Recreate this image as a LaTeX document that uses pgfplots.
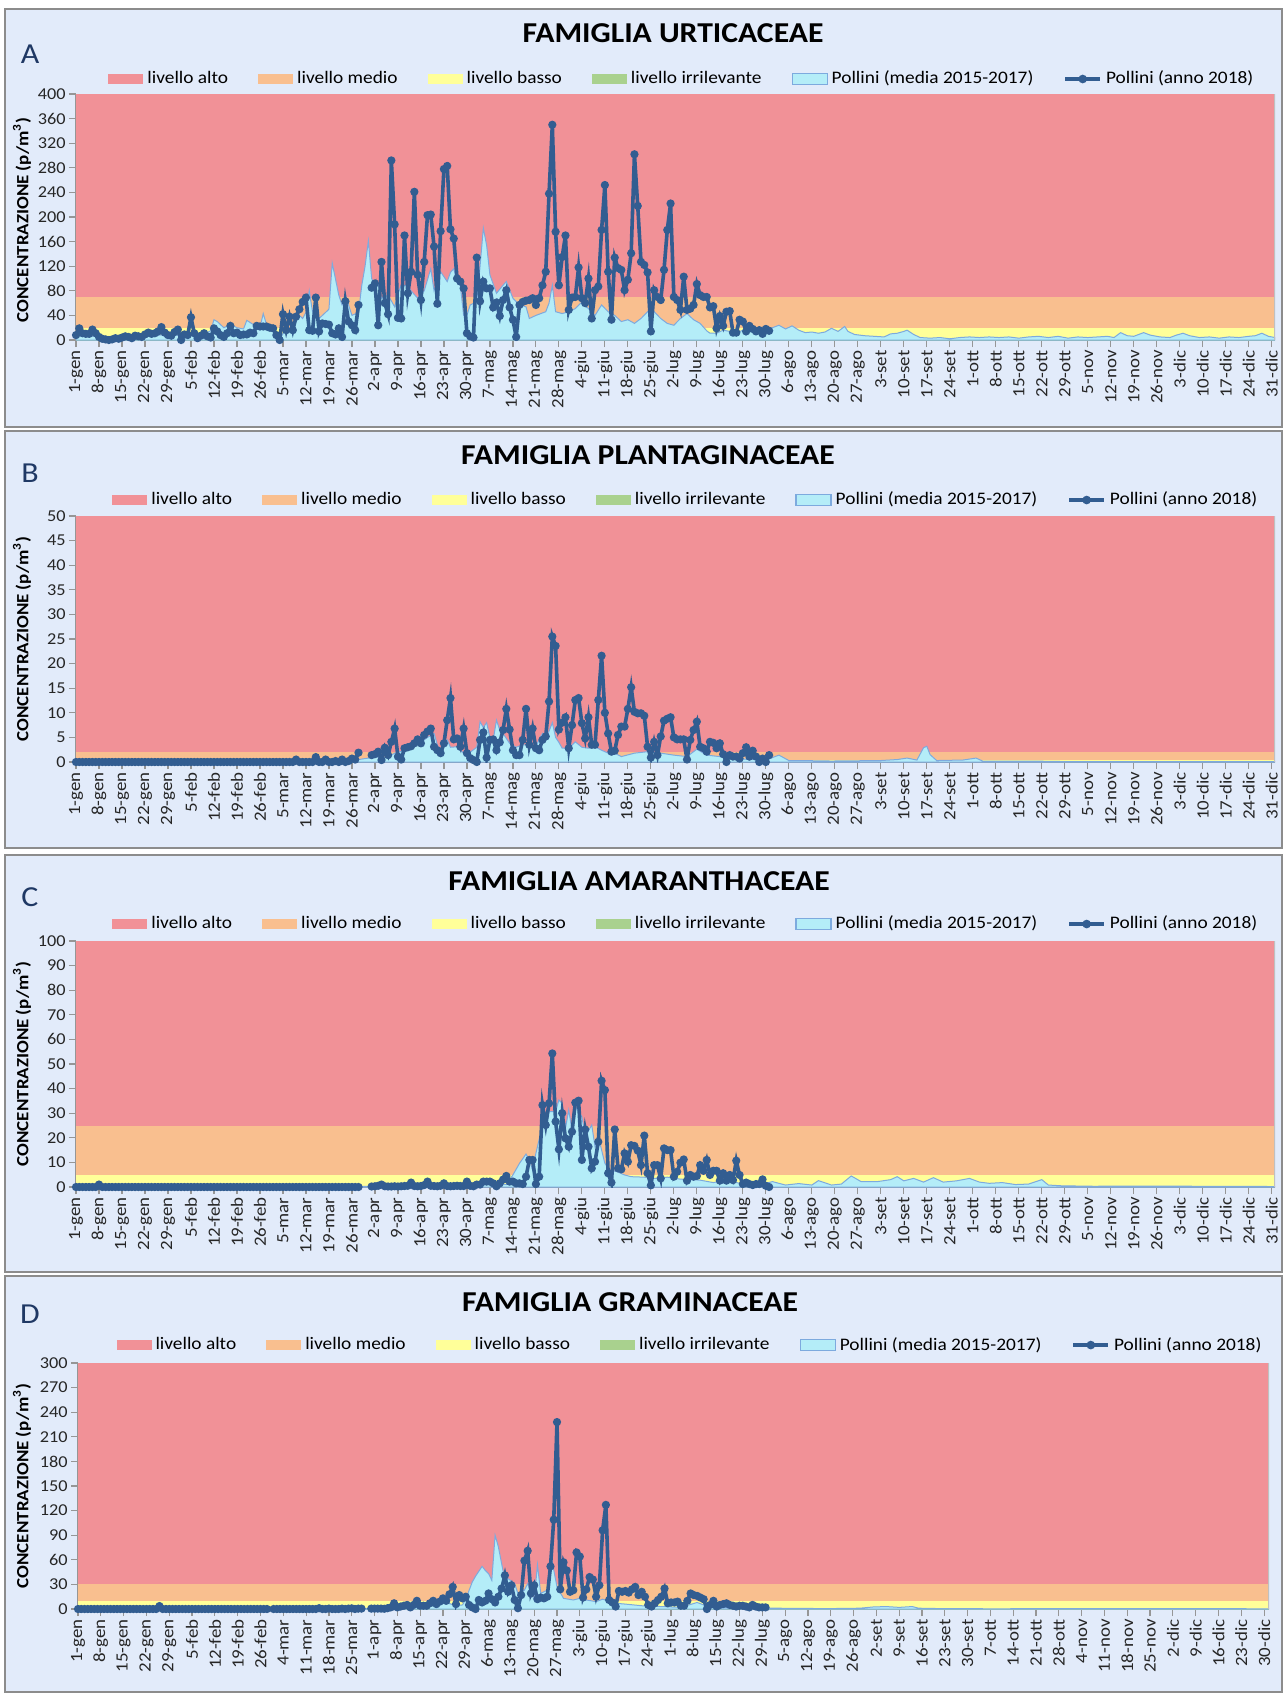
\documentclass[border=0pt]{standalone}
\usepackage{pgfplots}
\pgfplotsset{compat=1.18}
\usepackage{pgfplotstable}
\usepackage{fontspec}
\setmainfont{Carlito}[FakeStretch=1.1]

\definecolor{cRed}{RGB}{241,145,151}
\definecolor{cOrange}{RGB}{249,191,143}
\definecolor{cYellow}{RGB}{255,255,153}
\definecolor{cGreen}{RGB}{169,209,142}
\definecolor{avgFill}{RGB}{180,237,248}
\definecolor{avgEdge}{RGB}{125,170,222}
\definecolor{lineBlue}{RGB}{50,93,145}
\definecolor{panelBg}{RGB}{226,235,250}
\definecolor{boxGrey}{RGB}{140,140,140}
\definecolor{axGrey}{RGB}{150,150,150}
\definecolor{letterBlue}{RGB}{31,56,100}

\newcommand\xtickfont{\fontsize{8.6}{9}\selectfont}
\newcommand\ytickfont{\fontsize{8.3}{9}\selectfont}
\newcommand\legfont{\fontsize{8.8}{10}\selectfont}
\newcommand\titlefont{\fontsize{14.4}{16}\selectfont\bfseries}
\newcommand\letterfont{\fontsize{14.5}{16}\selectfont}
\newcommand\ylabfont{\fontsize{8.6}{10}\selectfont\bfseries}

% ---------------- 2018 daily series (day 0 = 1 Jan) ----------------
\pgfplotstableread[row sep=crcr,header=false]{
8\\19\\11\\10\\10\\17\\11\\5\\2\\1\\
0\\1\\3\\2\\4\\6\\5\\3\\7\\6\\
5\\9\\12\\10\\11\\14\\21\\12\\8\\7\\
13\\17\\0\\9\\8\\37\\11\\3\\7\\11\\
6\\4\\19\\14\\8\\5\\11\\23\\11\\12\\
8\\9\\9\\12\\11\\23\\22\\22\\22\\20\\
19\\8\\0\\42\\16\\38\\16\\38\\50\\62\\
69\\16\\15\\69\\14\\27\\26\\25\\11\\9\\
19\\5\\63\\30\\24\\16\\57\\nan\\nan\\nan\\
85\\92\\24\\127\\60\\42\\292\\188\\36\\35\\
170\\76\\111\\241\\106\\65\\127\\203\\204\\152\\
59\\177\\278\\283\\180\\165\\100\\95\\84\\11\\
6\\4\\134\\63\\95\\84\\84\\53\\61\\39\\
65\\81\\53\\33\\5\\57\\62\\64\\65\\68\\
57\\68\\89\\111\\238\\350\\176\\89\\135\\170\\
49\\69\\70\\118\\68\\60\\100\\35\\81\\87\\
179\\252\\111\\33\\134\\117\\114\\81\\98\\141\\
302\\218\\127\\122\\110\\14\\81\\70\\65\\114\\
179\\222\\70\\65\\49\\103\\49\\51\\57\\91\\
73\\70\\70\\53\\55\\19\\39\\23\\46\\47\\
12\\12\\33\\30\\14\\23\\18\\14\\16\\10\\
18\\15\\}\lineA

\pgfplotstableread[row sep=crcr,header=false]{
0\\0\\0\\0\\0\\0\\0\\0\\0\\0\\
0\\0\\0\\0\\0\\0\\0\\0\\0\\0\\
0\\0\\0\\0\\0\\0\\0\\0\\0\\0\\
0\\0\\0\\0\\0\\0\\0\\0\\0\\0\\
0\\0\\0\\0\\0\\0\\0\\0\\0\\0\\
0\\0\\0\\0\\0\\0\\0\\0\\0\\0\\
0\\0\\0\\0\\0\\0\\0\\0.5\\0\\0\\
0\\0\\0\\1\\0\\0\\0.5\\0\\0\\0.2\\
0\\0.5\\0\\0.2\\0.7\\0.5\\1.9\\nan\\nan\\nan\\
1.4\\1.6\\2.1\\0.4\\2.9\\1.4\\4.1\\6.8\\1.1\\0.5\\
2.8\\3\\3.2\\3.8\\4.6\\3.8\\5.5\\6.2\\6.8\\3.1\\
2.4\\1.8\\3.8\\8.5\\13\\4.6\\4.8\\3.1\\6.8\\1.8\\
0.8\\0.4\\0\\4.5\\6\\0.9\\4.5\\4.6\\2.4\\4\\
6.5\\10.8\\6.6\\2.4\\1.4\\1.4\\4.5\\10.8\\3.5\\6.8\\
2.8\\2.4\\4.5\\5.2\\12.3\\25.5\\23.6\\6.6\\8\\9.1\\
2.8\\7.5\\12.6\\13\\7.9\\4.8\\9.1\\3.5\\3.5\\12.6\\
21.6\\10\\5.8\\2.1\\2.3\\5.5\\7.2\\7.2\\10.8\\15.2\\
10.2\\9.9\\9.9\\9.4\\3.1\\0.9\\4.1\\1.4\\5.2\\8.4\\
8.8\\9.1\\5\\4.6\\4.6\\4.6\\0.5\\4.5\\6.5\\8.2\\
3.1\\2.8\\2.1\\4.1\\3.9\\2.8\\3.8\\1.6\\0\\1.4\\
1.1\\1.1\\0.7\\1.8\\3\\1.1\\2.3\\1.1\\0\\0.7\\
0\\1.4\\}\lineB

\pgfplotstableread[row sep=crcr,header=false]{
0\\0\\0\\0\\0\\0\\0\\1\\0\\0\\
0\\0\\0\\0\\0\\0\\0\\0\\0\\0\\
0\\0\\0\\0\\0\\0\\0\\0\\0\\0\\
0\\0\\0\\0\\0\\0\\0\\0\\0\\0\\
0\\0\\0\\0\\0\\0\\0\\0\\0\\0\\
0\\0\\0\\0\\0\\0\\0\\0\\0\\0\\
0\\0\\0\\0\\0\\0\\0\\0\\0\\0\\
0\\0\\0\\0\\0\\0\\0\\0\\0\\0\\
0\\0\\0\\0\\0\\0\\0\\nan\\nan\\nan\\
0.2\\0.3\\0.5\\1\\0.3\\0.2\\0.2\\0.3\\0.2\\0.3\\
0.4\\0.5\\1.8\\0.4\\0.3\\0.4\\0.8\\2.2\\0.5\\0.4\\
0.3\\0.5\\1.5\\0.4\\0.3\\0.4\\0.5\\0.4\\0.4\\2.2\\
0.5\\0.3\\1\\1\\2.2\\2.2\\2.2\\1.5\\0.3\\1.5\\
3\\4.5\\2.2\\2.2\\1.5\\1.5\\1.2\\4.2\\11\\11\\
1.2\\4.2\\33.3\\25.2\\34\\54.3\\26.6\\15.3\\30\\19.8\\
16.4\\22.5\\34.3\\35.1\\11\\23.4\\16.4\\7.6\\10.3\\18.4\\
43.2\\39.4\\5.6\\1.8\\23.4\\7.6\\7.2\\13.7\\10.3\\17\\
16.7\\14.8\\8.9\\20.9\\5.6\\0.7\\8.9\\8.9\\3.5\\15.7\\
15\\15\\4.2\\6.2\\9.9\\11.2\\2.6\\4.9\\4.2\\4.5\\
8.9\\6.6\\11\\4.9\\6.6\\6.6\\2.6\\5.6\\2.6\\4.9\\
2.8\\10.7\\4.9\\1.2\\1.8\\1.2\\0.8\\1.2\\1.2\\3.1\\
0.5\\0\\}\lineC

\pgfplotstableread[row sep=crcr,header=false]{
0\\0\\0\\0\\0\\0\\0\\0\\0\\0\\
0\\0\\0\\0\\0\\0\\0\\0\\0\\0\\
0\\0\\0\\0\\0\\3.6\\0\\0\\0\\0\\
0\\0\\0\\0\\0\\0\\0\\0\\0\\0\\
0\\0\\0\\0\\0\\0\\0\\0\\0\\0\\
0\\0\\0\\0\\0\\0\\0\\0\\0\\nan\\
0\\0\\0\\0\\0\\0\\0\\0\\0\\0\\
0\\0\\0\\0\\1\\0\\0\\0.5\\0\\0\\
0\\0.5\\0\\0.5\\0.8\\0\\0.5\\0.5\\nan\\nan\\
0.5\\0.5\\0.5\\0.5\\0.3\\1\\2\\7\\2\\3\\
4\\5\\2\\5\\10\\4\\4\\4\\7\\10\\
6\\9\\13\\10\\18\\27\\6\\17\\13\\15\\
5\\2\\0\\11\\8\\10\\19\\12\\8\\15\\
25\\41\\21\\29\\11\\1\\17\\59\\71\\19\\
29\\12\\14\\13\\15\\52\\109\\228\\24\\57\\
47\\21\\23\\69\\64\\14\\24\\39\\36\\15\\
29\\96\\127\\11\\8\\3\\22\\21\\22\\20\\
24\\27\\17\\21\\15\\5\\3\\7\\11\\15\\
25\\7\\8\\8\\9\\4\\4\\10\\19\\17\\
16\\14\\12\\0\\5\\10\\3\\5\\6\\7\\
5\\4\\3\\4\\4\\3\\2\\5\\3\\2\\
2\\2\\}\lineD

% ---------------- 2015-2017 averages (day, value) ----------------
\pgfplotstableread[row sep=crcr,header=false]{
0 6\\3 7\\6 6\\9 4\\12 5\\15 7\\18 6\\21 8\\24 7\\27 9\\30 8\\33 7\\36 9\\39 10\\41 15\\42 33\\43 30\\45 20\\47 25\\49 20\\51 18\\52 32\\54 25\\56 20\\57 43\\58 25\\60 20\\61 10\\62 3\\63 10\\64 18\\66 20\\67 30\\68 40\\69 35\\70 45\\71 80\\72 46\\74 35\\76 45\\77 50\\78 125\\80 73\\81 57\\82 73\\84 40\\86 45\\87 89\\88 120\\89 161\\90 100\\91 90\\92 90\\93 68\\95 73\\97 54\\98 75\\99 89\\101 89\\102 80\\104 68\\106 80\\108 116\\109 80\\111 111\\113 95\\114 110\\115 116\\116 95\\117 89\\118 40\\119 40\\120 57\\122 62\\123 120\\124 182\\125 154\\126 106\\128 76\\130 89\\131 95\\133 68\\135 57\\137 54\\138 35\\140 40\\143 46\\144 60\\145 89\\146 46\\148 43\\150 46\\152 51\\154 62\\156 51\\158 40\\160 57\\162 46\\164 40\\166 30\\168 33\\170 27\\172 35\\174 46\\176 46\\178 35\\180 27\\182 24\\184 35\\186 43\\188 33\\190 27\\192 15\\193 11\\195 11\\197 16\\199 14\\201 11\\203 16\\205 14\\207 16\\208 14\\210 16\\212 20\\214 24\\216 18\\218 23\\220 16\\222 12\\224 13\\226 11\\228 13\\230 19\\232 14\\234 22\\235 14\\237 9\\240 7\\243 6\\246 5\\248 10\\250 11\\252 14\\253 16\\255 9\\257 4\\260 3\\263 4\\266 2\\269 4\\272 5\\275 4\\278 5\\281 4\\284 5\\287 3\\290 5\\293 6\\296 4\\299 6\\302 3\\305 5\\308 4\\311 5\\314 6\\316 4\\318 12\\320 7\\322 6\\325 12\\327 8\\330 5\\333 4\\335 8\\337 11\\339 7\\342 4\\345 5\\348 3\\351 5\\354 4\\357 6\\359 7\\361 11\\363 6\\365 4\\}\avgA

\pgfplotstableread[row sep=crcr,header=false]{
0 0\\60 0\\70 0.1\\80 0.1\\84 0.3\\88 0.7\\91 1\\95 1\\97 1.8\\100 2.3\\102 2.8\\104 3.8\\105 5.5\\106 4.5\\107 5\\109 5.8\\110 3.5\\111 1.8\\113 4.5\\114 3\\116 3.1\\118 1.8\\120 2\\122 3\\123 8.2\\124 7\\125 8\\126 5\\127 4.5\\128 8.5\\129 6.5\\130 5.8\\132 3.8\\134 3\\136 3.5\\138 3.5\\140 3.2\\142 5.8\\143 4.5\\145 8\\146 5\\147 4\\148 2.8\\150 2.8\\152 4.1\\154 3\\156 2.8\\158 3.1\\160 2.4\\162 1.8\\164 1.8\\166 1.1\\170 1.8\\174 2.1\\178 1.8\\182 1.4\\186 1.1\\189 2.6\\192 1.4\\196 1.1\\200 0.8\\205 0.5\\210 0.4\\214 1.4\\217 0.3\\220 0.3\\230 0.2\\245 0.3\\250 0.5\\253 0.8\\256 0.4\\258 2.9\\259 3.2\\260 1.5\\262 0.3\\270 0.4\\274 0.8\\276 0.2\\290 0.2\\300 0.1\\365 0.1\\}\avgB

\pgfplotstableread[row sep=crcr,header=false]{
0 0.2\\60 0.2\\90 0.3\\120 0.4\\125 1\\128 1.5\\131 1\\133 4.9\\135 9.6\\137 13.4\\138 11\\139 6.9\\140 13.7\\142 25.2\\144 30.6\\146 30.6\\147 35.4\\148 34\\149 23.8\\150 31.3\\151 23\\152 32.7\\154 28.6\\155 20.5\\157 25.2\\158 16.4\\159 20.5\\161 9.6\\163 5.6\\164 6.6\\167 4.9\\169 4.2\\173 4\\176 3.5\\180 4\\184 3.2\\190 2.8\\194 1.8\\198 2.8\\203 1.2\\208 0.8\\212 2.2\\216 0.8\\220 1.4\\224 0.8\\226 2.6\\230 0.8\\233 1.2\\236 4.5\\239 2.2\\244 2.2\\248 3\\250 4.2\\252 2.5\\255 3.5\\258 2\\261 3.8\\264 2\\268 2.5\\272 3.5\\275 2\\278 1.5\\282 1.8\\286 1\\290 1.2\\294 3\\296 0.8\\300 0.5\\310 0.3\\320 0.4\\365 0.2\\}\avgC

\pgfplotstableread[row sep=crcr,header=false]{
0 0.3\\60 0.3\\100 0.5\\103 2\\106 4\\108 6\\110 5\\113 8\\116 4\\118 5\\119 12\\121 33\\122 40\\124 52\\125 47\\126 43\\127 35\\128 90\\129 76\\131 35\\132 37\\134 31\\135 19\\137 23\\138 31\\140 11\\141 54\\142 19\\144 23\\145 68\\147 27\\149 13\\152 11\\154 13\\156 11\\159 9\\161 12\\165 7\\168 6\\173 4\\179 3\\185 2\\190 8\\194 2\\202 1.5\\214 1\\230 0.5\\240 1\\244 2.5\\248 3\\252 2\\256 3\\258 1\\265 0.5\\280 0.3\\320 0.5\\365.5 0.3\\}\avgD

\pgfplotsset{
  panel/.style={
    scale only axis, width=599.5pt, height=123pt,
    xmin=0, xmax=365, enlargelimits=false,
    axis lines*=left,
    axis line style={-, draw=axGrey, line width=0.7pt},
    tick style={draw=axGrey, line width=0.6pt},
    major tick length=3.5pt, tick align=outside,
    xtick={0,7,...,364},
    xticklabel style={rotate=90, anchor=east, font=\xtickfont, text=black!85, inner sep=1.5pt},
    yticklabel style={font=\ytickfont, text=black!85, inner sep=1.5pt},
    /pgf/number format/assume math mode=true,
    legend columns=6,
    legend cell align=left,
    legend style={draw=none, fill=none, font=\legfont, anchor=west, inner sep=0pt,
      /tikz/every even column/.append style={column sep=13pt}},
  },
  labsABC/.style={xticklabels={1-gen,8-gen,15-gen,22-gen,29-gen,5-feb,12-feb,19-feb,26-feb,5-mar,12-mar,19-mar,26-mar,2-apr,9-apr,16-apr,23-apr,30-apr,7-mag,14-mag,21-mag,28-mag,4-giu,11-giu,18-giu,25-giu,2-lug,9-lug,16-lug,23-lug,30-lug,6-ago,13-ago,20-ago,27-ago,3-set,10-set,17-set,24-set,1-ott,8-ott,15-ott,22-ott,29-ott,5-nov,12-nov,19-nov,26-nov,3-dic,10-dic,17-dic,24-dic,31-dic}},
  labsD/.style={xticklabels={1-gen,8-gen,15-gen,22-gen,29-gen,5-feb,12-feb,19-feb,26-feb,4-mar,11-mar,18-mar,25-mar,1-apr,8-apr,15-apr,22-apr,29-apr,6-mag,13-mag,20-mag,27-mag,3-giu,10-giu,17-giu,24-giu,1-lug,8-lug,15-lug,22-lug,29-lug,5-ago,12-ago,19-ago,26-ago,2-set,9-set,16-set,23-set,30-set,7-ott,14-ott,21-ott,28-ott,4-nov,11-nov,18-nov,25-nov,2-dic,9-dic,16-dic,23-dic,30-dic}},
  avgstyle/.style={fill=avgFill, draw=avgEdge, line width=0.5pt,
    legend image code/.code={\filldraw[line width=0.6pt] (0pt,-2.6pt) rectangle (17.5pt,2.6pt);}},
  linestyle/.style={color=lineBlue, line width=1.8pt, mark=*, mark size=1.1pt, mark options={solid}, unbounded coords=jump,
    legend image code/.code={\draw[line width=1.8pt] (0pt,0pt) -- (17.5pt,0pt); \fill (8.75pt,0pt) circle (1.2pt);}},
  band/.style={draw=none, fill=#1,
    legend image code/.code={\fill[#1] (0pt,-2.6pt) rectangle (17.5pt,2.6pt);}},
}

\newcommand\legendlist{\legend{livello alto,livello medio,livello basso,livello irrilevante,Pollini (media 2015-2017),Pollini (anno 2018)}}

\begin{document}
\begin{tikzpicture}
\useasboundingbox (0,0) rectangle (642.5pt,-847pt);
\fill[white] (0,0) rectangle (642.5pt,-847pt);
% panel boxes
\draw[draw=boxGrey, line width=1pt, fill=panelBg] (2.5pt,-4.5pt) rectangle (641pt,-213.5pt);
\draw[draw=boxGrey, line width=1pt, fill=panelBg] (2.5pt,-215.5pt) rectangle (641pt,-424pt);
\draw[draw=boxGrey, line width=1pt, fill=panelBg] (2.5pt,-427.5pt) rectangle (641pt,-636pt);
\draw[draw=boxGrey, line width=1pt, fill=panelBg] (2.5pt,-638pt) rectangle (641pt,-846pt);

% titles, letters, y labels
\node[font=\titlefont] at (336.5pt,-16.75pt) {FAMIGLIA URTICACEAE};
\node[font=\titlefont] at (324pt,-227.5pt) {FAMIGLIA PLANTAGINACEAE};
\node[font=\titlefont] at (319.5pt,-440.5pt) {FAMIGLIA AMARANTHACEAE};
\node[font=\titlefont] at (315pt,-651pt) {FAMIGLIA GRAMINACEAE};
\node[font=\letterfont, text=letterBlue] at (15pt,-27pt) {A};
\node[font=\letterfont, text=letterBlue] at (15pt,-236.5pt) {B};
\node[font=\letterfont, text=letterBlue] at (15pt,-448.5pt) {C};
\node[font=\letterfont, text=letterBlue] at (15pt,-657pt) {D};
\node[font=\ylabfont, rotate=90] at (11pt,-110pt) {CONCENTRAZIONE (p/m\textsuperscript{3})};
\node[font=\ylabfont, rotate=90] at (11pt,-319.5pt) {CONCENTRAZIONE (p/m\textsuperscript{3})};
\node[font=\ylabfont, rotate=90] at (11pt,-532pt) {CONCENTRAZIONE (p/m\textsuperscript{3})};
\node[font=\ylabfont, rotate=90] at (11pt,-743pt) {CONCENTRAZIONE (p/m\textsuperscript{3})};

% ---------------- A ----------------
\begin{axis}[panel, labsABC, at={(38pt,-170pt)}, anchor=south west,
  ymin=0, ymax=400, ytick={0,40,...,400},
  legend style={at={(axis description cs:0.0267,1.061)}}]
\addplot[band=cRed] coordinates {(0,70) (365,70) (365,400) (0,400)} -- cycle;
\addplot[band=cOrange] coordinates {(0,20) (365,20) (365,70) (0,70)} -- cycle;
\addplot[band=cYellow] coordinates {(0,0.5) (365,0.5) (365,20) (0,20)} -- cycle;
\addplot[band=cGreen] coordinates {(0,0) (365,0) (365,0.5) (0,0.5)} -- cycle;
\addplot[avgstyle] table[x index=0, y index=1] {\avgA} \closedcycle;
\addplot[linestyle] table[x expr=\coordindex, y index=0] {\lineA};
\draw[axGrey!60, line width=0.6pt] (rel axis cs:1,0) -- (rel axis cs:1,1);
\legendlist
\end{axis}

% ---------------- B ----------------
\begin{axis}[panel, labsABC, at={(38pt,-381pt)}, anchor=south west,
  ymin=0, ymax=50, ytick={0,5,...,50},
  legend style={at={(axis description cs:0.030,1.065)}}]
\addplot[band=cRed] coordinates {(0,2) (365,2) (365,50) (0,50)} -- cycle;
\addplot[band=cOrange] coordinates {(0,0.5) (365,0.5) (365,2) (0,2)} -- cycle;
\addplot[band=cYellow] coordinates {(0,0.2) (365,0.2) (365,0.5) (0,0.5)} -- cycle;
\addplot[band=cGreen] coordinates {(0,0) (365,0) (365,0.2) (0,0.2)} -- cycle;
\addplot[avgstyle] table[x index=0, y index=1] {\avgB} \closedcycle;
\addplot[linestyle] table[x expr=\coordindex, y index=0] {\lineB};
\draw[axGrey!60, line width=0.6pt] (rel axis cs:1,0) -- (rel axis cs:1,1);
\legendlist
\end{axis}

% ---------------- C ----------------
\begin{axis}[panel, labsABC, at={(38pt,-593.5pt)}, anchor=south west,
  ymin=0, ymax=100, ytick={0,10,...,100},
  legend style={at={(axis description cs:0.030,1.069)}}]
\addplot[band=cRed] coordinates {(0,25) (365,25) (365,100) (0,100)} -- cycle;
\addplot[band=cOrange] coordinates {(0,5) (365,5) (365,25) (0,25)} -- cycle;
\addplot[band=cYellow] coordinates {(0,0.5) (365,0.5) (365,5) (0,5)} -- cycle;
\addplot[band=cGreen] coordinates {(0,0) (365,0) (365,0.5) (0,0.5)} -- cycle;
\addplot[avgstyle] table[x index=0, y index=1] {\avgC} \closedcycle;
\addplot[linestyle] table[x expr=\coordindex, y index=0] {\lineC};
\draw[axGrey!60, line width=0.6pt] (rel axis cs:1,0) -- (rel axis cs:1,1);
\legendlist
\end{axis}

% ---------------- D ----------------
\begin{axis}[panel, labsD, at={(39pt,-804.5pt)}, anchor=south west,
  width=595.5pt, xmax=365.5,
  ymin=0, ymax=300, ytick={0,30,...,300},
  legend style={at={(axis description cs:0.032,1.073)}}]
\addplot[band=cRed] coordinates {(0,30) (365.5,30) (365.5,300) (0,300)} -- cycle;
\addplot[band=cOrange] coordinates {(0,10) (365.5,10) (365.5,30) (0,30)} -- cycle;
\addplot[band=cYellow] coordinates {(0,0.5) (365.5,0.5) (365.5,10) (0,10)} -- cycle;
\addplot[band=cGreen] coordinates {(0,0) (365.5,0) (365.5,0.5) (0,0.5)} -- cycle;
\addplot[avgstyle] table[x index=0, y index=1] {\avgD} \closedcycle;
\addplot[linestyle] table[x expr=\coordindex, y index=0] {\lineD};
\draw[axGrey!60, line width=0.6pt] (rel axis cs:1,0) -- (rel axis cs:1,1);
\legendlist
\end{axis}
\end{tikzpicture}
\end{document}
